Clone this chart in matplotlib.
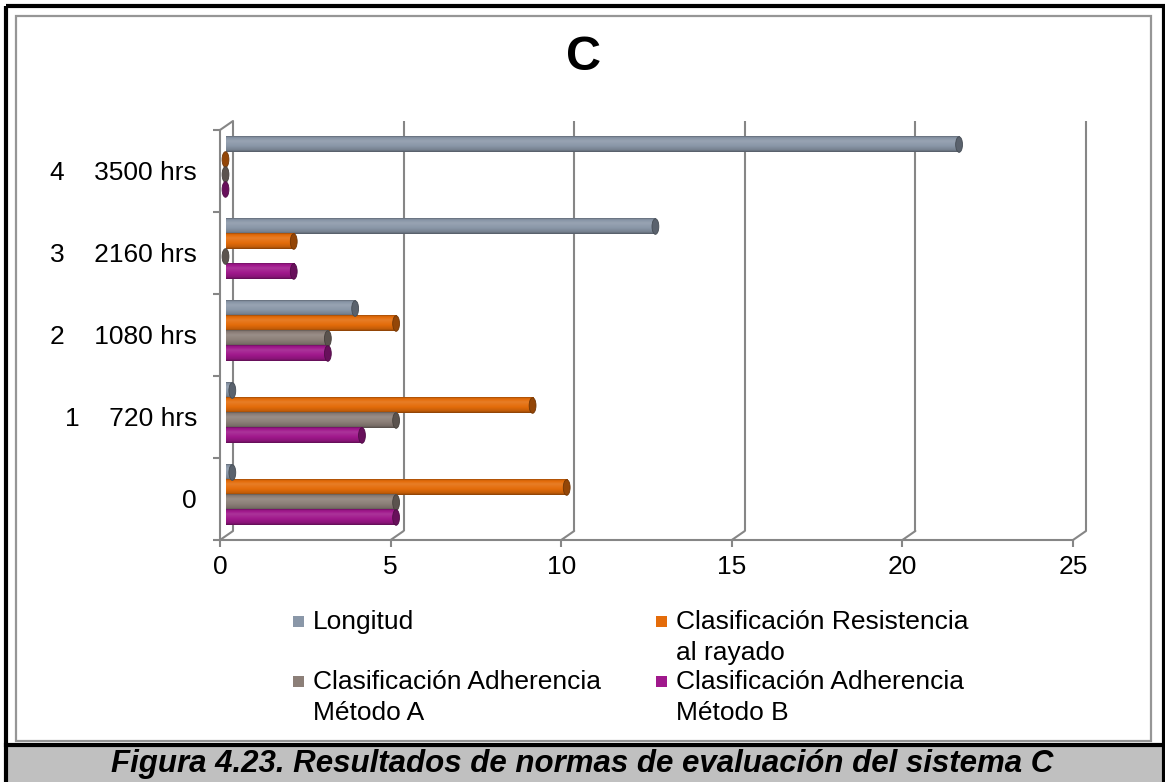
import matplotlib
matplotlib.use("Agg")
import matplotlib.pyplot as plt
import matplotlib.transforms as mtransforms
from matplotlib.patches import Ellipse, Rectangle
from matplotlib.colors import to_rgb
import numpy as np

plt.rcParams["font.family"] = ["Liberation Sans", "DejaVu Sans"]

# ---- data -------------------------------------------------------------
categories = ["0", "1    720 hrs", "2    1080 hrs", "3    2160 hrs", "4    3500 hrs"]
x_ticks = [0, 5, 10, 15, 20, 25]

longitud = [0.2, 0.2, 3.8, 12.6, 21.5]
resistencia_rayado = [10, 9, 5, 2, 0]
adherencia_a = [5, 5, 3, 0, 0]
adherencia_b = [5, 4, 3, 2, 0]

series_labels = [
    "Longitud",
    "Clasificación Resistencia\nal rayado",
    "Clasificación Adherencia\nMétodo A",
    "Clasificación Adherencia\nMétodo B",
]
series_colors = ["#8A97A8", "#E46C0A", "#8C7F78", "#A0188C"]
title = "C"
caption = "Figura 4.23. Resultados de normas de evaluación del sistema C"

# ---- figure -----------------------------------------------------------
W, H = 1165, 782
fig = plt.figure(figsize=(W / 100, H / 100), dpi=100)
fig.patch.set_facecolor("white")

# pixel coordinates (origin top-left) on the figure
pix = mtransforms.Affine2D().scale(1 / W, -1 / H).translate(0, 1) + fig.transFigure

GRID = "#868686"

ax = fig.add_axes([220 / W, 1 - 540 / H, (1073 - 220) / W, (540 - 130) / H])
ax.set_facecolor("none")
ax.patch.set_visible(False)
for side in ("top", "right"):
    ax.spines[side].set_visible(False)
for side in ("left", "bottom"):
    ax.spines[side].set_color(GRID)
    ax.spines[side].set_linewidth(1.5)

# depth offsets of the 3-D frame (back wall) and of the bar row
back_tr = mtransforms.offset_copy(ax.transData, fig=fig, x=13, y=9, units="dots")
bar_tr = mtransforms.offset_copy(ax.transData, fig=fig, x=5.5, y=4.0, units="dots")

# back wall gridlines and the slanted floor/wall edges
for xv in x_ticks:
    ax.plot([xv, xv], [-0.5, 4.5], color=GRID, lw=1.5, transform=back_tr,
            zorder=1, clip_on=False, solid_capstyle="butt")
    ax.annotate("", xy=(xv, -0.5), xytext=(13, 9), textcoords="offset pixels",
                arrowprops=dict(arrowstyle="-", color=GRID, lw=1.5,
                                shrinkA=0, shrinkB=0), zorder=1)
ax.annotate("", xy=(0, 4.5), xytext=(13, 9), textcoords="offset pixels",
            arrowprops=dict(arrowstyle="-", color=GRID, lw=1.5,
                            shrinkA=0, shrinkB=0), zorder=1)


def shade(color, f):
    c = np.array(to_rgb(color))
    if f >= 1:
        return c + (1 - c) * (f - 1)
    return c * f


def cylinder(y_center, value, color, height, cap_w):
    """Horizontal cylinder from 0 to value with an elliptical end cap."""
    stops = [0.0, 0.07, 0.3, 0.62, 0.88, 1.0]
    factors = [0.7, 0.95, 1.12, 1.0, 0.85, 0.6]
    t = np.linspace(0, 1, 40)
    f = np.interp(t, stops, factors)
    grad = np.array([shade(color, v) for v in f]).reshape(-1, 1, 3)
    grad = np.clip(grad, 0, 1)
    if value > 0:
        ax.imshow(grad, extent=[0, value, y_center - height / 2, y_center + height / 2],
                  aspect="auto", origin="upper", interpolation="bilinear",
                  transform=bar_tr, zorder=3, clip_on=False)
    cap = Ellipse((value, y_center), width=cap_w, height=height, transform=bar_tr,
                  facecolor=shade(color, 0.65), edgecolor=shade(color, 0.5),
                  lw=0.6, zorder=4, clip_on=False)
    ax.add_patch(cap)


series = [longitud, resistencia_rayado, adherencia_a, adherencia_b]
offsets = [0.274, 0.0915, -0.0915, -0.274]
bar_h = 0.19
for vals, col, off in zip(series, series_colors, offsets):
    for i, v in enumerate(vals):
        cylinder(i + off, v, col, bar_h, 0.2)

ax.set_xlim(0, 25)
ax.set_ylim(-0.5, 4.5)

ax.set_xticks(x_ticks)
ax.set_xticklabels([str(v) for v in x_ticks])
ax.tick_params(axis="x", length=5, width=1.5, color=GRID, pad=6,
               labelsize=19, labelcolor="black")
ax.set_yticks(range(len(categories)))
ax.set_yticklabels(categories)
ax.tick_params(axis="y", which="major", length=0, pad=16.5, labelsize=19,
               labelcolor="black")
ax.set_yticks(np.arange(-0.5, len(categories), 1), minor=True)
ax.tick_params(axis="y", which="minor", length=5, width=1.5, color=GRID)

# title
fig.text(583, 57, title, transform=pix, fontsize=35, fontweight="bold",
         ha="center", va="center")

# legend (two columns)
legend_pos = [(293, 621), (656, 621), (293, 681), (656, 681)]
for (lx, ly), lab, col in zip(legend_pos, series_labels, series_colors):
    fig.patches.append(Rectangle((lx, ly - 5), 11, 11, transform=pix,
                                 facecolor=col, edgecolor="none"))
    fig.text(lx + 20, ly - 11, lab, transform=pix, fontsize=19, ha="left",
             va="top", linespacing=1.35)

# chart-area border and outer frame with caption band
fig.patches.append(Rectangle((16, 16), 1151 - 16, 741 - 16, transform=pix,
                             facecolor="none", edgecolor="#969696", lw=1.6))
fig.patches.append(Rectangle((6, 746), 1157, 40, transform=pix,
                             facecolor="#C0C0C0", edgecolor="none"))
fig.patches.append(Rectangle((6, 6), 1157.5, 800, transform=pix,
                             facecolor="none", edgecolor="black", lw=3))
fig.add_artist(plt.Line2D([6, 1163.5], [744.5, 744.5], transform=pix,
                          color="black", lw=3))
fig.text(582, 764, caption, transform=pix, fontsize=22.5, fontweight="bold",
         fontstyle="italic", ha="center", va="center")

fig.savefig("out.png", dpi=100)
